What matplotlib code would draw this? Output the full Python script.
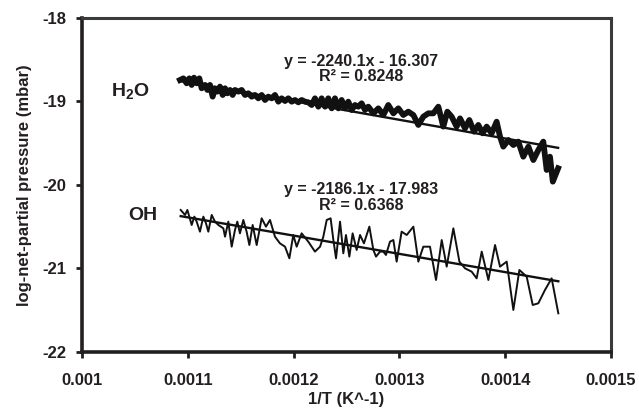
import numpy as np
import matplotlib
matplotlib.use("Agg")
import matplotlib.pyplot as plt

# 1/T values are given in units of 1e-4 K^-1, pressures as log10(mbar)
h2o_x = np.array([
    10.926, 10.958, 10.989, 11.014, 11.037, 11.059, 11.084, 11.109, 11.131, 11.163,
    11.185, 11.210, 11.235, 11.257, 11.279, 11.304, 11.330, 11.352, 11.374, 11.399,
    11.424, 11.446, 11.478, 11.509, 11.541, 11.572, 11.604, 11.635, 11.667, 11.698,
    11.730, 11.761, 11.793, 11.824, 11.856, 11.887, 11.919, 11.950, 11.982, 12.013,
    12.045, 12.076, 12.108, 12.139, 12.171, 12.202, 12.234, 12.265, 12.297, 12.328,
    12.360, 12.391, 12.423, 12.454, 12.486, 12.517, 12.549, 12.580, 12.612, 12.643,
    12.675, 12.706, 12.754, 12.801, 12.848, 12.895, 12.943, 12.990, 13.037, 13.084,
    13.132, 13.179, 13.226, 13.273, 13.321, 13.368, 13.415, 13.453, 13.494, 13.541,
    13.573, 13.620, 13.661, 13.705, 13.746, 13.787, 13.825, 13.872, 13.919, 13.951,
    13.982, 14.030, 14.077, 14.124, 14.171, 14.219, 14.266, 14.313, 14.360, 14.392,
    14.423, 14.450, 14.500,
]) * 1e-4
h2o_y = [
    -18.743, -18.723, -18.782, -18.723, -18.802, -18.715, -18.782, -18.723, -18.842, -18.802,
    -18.862, -18.802, -18.942, -18.842, -18.882, -18.822, -18.922, -18.842, -18.902, -18.862,
    -18.922, -18.862, -18.882, -18.862, -18.922, -18.902, -18.942, -18.922, -18.962, -18.922,
    -18.982, -18.942, -18.962, -18.922, -19.002, -18.962, -18.994, -18.962, -19.002, -18.982,
    -19.010, -18.982, -19.002, -19.010, -19.042, -18.962, -19.062, -18.962, -19.062, -18.962,
    -19.082, -18.962, -19.082, -18.982, -19.082, -19.002, -19.102, -19.042, -19.062, -19.022,
    -19.102, -19.062, -19.142, -19.082, -19.162, -19.042, -19.142, -19.082, -19.162, -19.122,
    -19.162, -19.281, -19.182, -19.142, -19.142, -19.062, -19.301, -19.122, -19.182, -19.301,
    -19.202, -19.321, -19.222, -19.361, -19.281, -19.381, -19.301, -19.381, -19.242, -19.421,
    -19.541, -19.461, -19.521, -19.481, -19.661, -19.541, -19.701, -19.581, -19.481, -19.820,
    -19.661, -19.960, -19.800,
]

oh_x = np.array([
    10.933, 10.974, 10.996, 11.037, 11.062, 11.084, 11.115, 11.147, 11.172, 11.194,
    11.226, 11.257, 11.289, 11.336, 11.352, 11.383, 11.415, 11.446, 11.468, 11.493,
    11.525, 11.556, 11.582, 11.613, 11.651, 11.698, 11.739, 11.777, 11.824, 11.871,
    11.919, 11.960, 11.997, 12.029, 12.076, 12.139, 12.202, 12.250, 12.281, 12.313,
    12.350, 12.376, 12.401, 12.439, 12.470, 12.495, 12.527, 12.558, 12.596, 12.628,
    12.665, 12.716, 12.754, 12.779, 12.817, 12.848, 12.873, 12.911, 12.943, 12.974,
    13.021, 13.069, 13.132, 13.179, 13.226, 13.289, 13.346, 13.400, 13.447, 13.510,
    13.567, 13.620, 13.683, 13.730, 13.778, 13.841, 13.904, 13.951, 14.014, 14.077,
    14.134, 14.203, 14.260, 14.313, 14.376, 14.439, 14.502,
]) * 1e-4
oh_y = [
    -20.299, -20.359, -20.299, -20.479, -20.379, -20.439, -20.559, -20.379, -20.459, -20.559,
    -20.359, -20.439, -20.479, -20.519, -20.619, -20.439, -20.739, -20.539, -20.439, -20.579,
    -20.419, -20.559, -20.719, -20.479, -20.719, -20.399, -20.499, -20.419, -20.619, -20.699,
    -20.739, -20.878, -20.599, -20.739, -20.579, -20.679, -20.798, -20.739, -20.619, -20.419,
    -20.399, -20.659, -20.878, -20.439, -20.818, -20.599, -20.858, -20.579, -20.778, -20.599,
    -20.699, -20.499, -20.778, -20.858, -20.798, -20.798, -20.838, -20.679, -20.659, -20.918,
    -20.559, -20.599, -20.499, -20.918, -20.739, -20.739, -21.138, -20.659, -20.978, -20.519,
    -20.918, -20.998, -21.038, -21.118, -20.798, -21.138, -20.719, -20.978, -20.918, -21.497,
    -21.018, -21.098, -21.437, -21.417, -21.257, -21.118, -21.537,
]

# linear trendlines as printed on the chart
fit_slope = [-2240.1, -2186.1]
fit_intercept = [-16.307, -17.983]
fit_r2 = [0.8248, 0.6368]

x_ticks = [0.001, 0.0011, 0.0012, 0.0013, 0.0014, 0.0015]
x_tick_labels = ["0.001", "0.0011", "0.0012", "0.0013", "0.0014", "0.0015"]
y_ticks = [-22, -21, -20, -19, -18]

plt.rcParams["font.family"] = ["Liberation Sans", "DejaVu Sans"]
plt.rcParams["font.weight"] = "bold"
plt.rcParams["mathtext.fontset"] = "custom"
plt.rcParams["mathtext.rm"] = "Liberation Sans:bold"
plt.rcParams["mathtext.bf"] = "Liberation Sans:bold"

ink = "#231f20"

fig = plt.figure(figsize=(6.39, 4.08), dpi=100)
ax = fig.add_axes([0.1283, 0.1373, 0.8279, 0.8186])

ax.plot(h2o_x, h2o_y, color="#111111", lw=4.2, solid_joinstyle="round", zorder=3)
ax.plot(oh_x, oh_y, color="#111111", lw=1.4, zorder=3)

for xs, slope, icpt in [(h2o_x, fit_slope[0], fit_intercept[0]), (oh_x, fit_slope[1], fit_intercept[1])]:
    xl = np.array([xs.min(), xs.max()])
    ax.plot(xl, slope * xl + icpt, color="#111111", lw=1.7, zorder=4)

ax.set_xlim(0.001, 0.0015)
ax.set_ylim(-22, -18)
ax.set_xticks(x_ticks)
ax.set_xticklabels(x_tick_labels)
ax.set_yticks(y_ticks)
ax.set_yticklabels([str(v) for v in y_ticks])
ax.tick_params(direction="out", length=4, width=2, colors=ink, labelsize=12, pad=7)
ax.tick_params(axis="x", pad=11)

for side in ["left", "bottom"]:
    ax.spines[side].set_linewidth(2.6)
    ax.spines[side].set_color(ink)
for side in ["top", "right"]:
    ax.spines[side].set_linewidth(2.2)
    ax.spines[side].set_color("#3a3a3a")

ax.set_xlabel("1/T (K^-1)", fontsize=12, fontweight="bold", color=ink, labelpad=3)
ax.set_ylabel("log-net-partial pressure (mbar)", fontsize=12, fontweight="bold", color=ink, labelpad=8)

ax.text(0.0012637, -18.61, f"y = {fit_slope[0]}x - {-fit_intercept[0]}\nR\u00b2 = {fit_r2[0]}",
        ha="center", va="center", fontsize=11.5, fontweight="bold", color=ink, linespacing=1.05)
ax.text(0.0012637, -20.15, f"y = {fit_slope[1]}x - {-fit_intercept[1]}\nR\u00b2 = {fit_r2[1]}",
        ha="center", va="center", fontsize=11.5, fontweight="bold", color=ink, linespacing=1.05)

ax.text(0.0010454, -18.874, r"$\mathbf{H_2O}$", ha="center", va="center", fontsize=14, color=ink)
ax.text(0.0010572, -20.36, "OH", ha="center", va="center", fontsize=14, fontweight="bold", color=ink)

fig.savefig("out.png", dpi=100)
